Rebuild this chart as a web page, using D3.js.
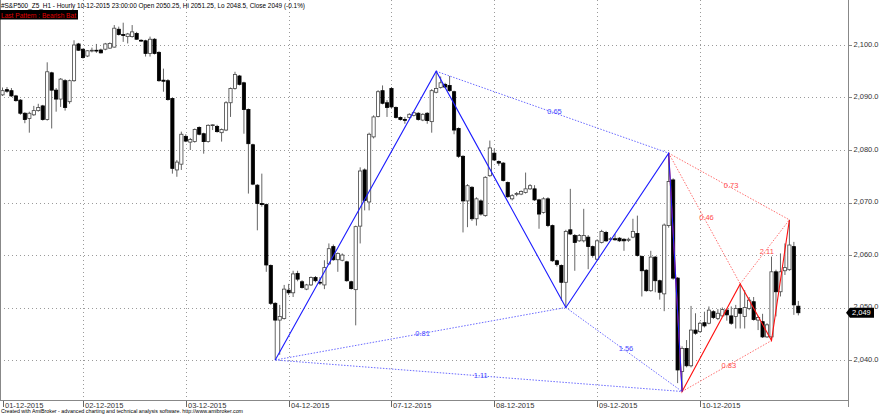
<!DOCTYPE html>
<html><head><meta charset="utf-8">
<script src="https://cdn.jsdelivr.net/npm/d3@7"></script>
<style>body{margin:0;background:#fff}svg{display:block}text{font-family:"Liberation Sans",Arial,sans-serif}</style>
</head><body>
<svg id="c" width="880" height="415"></svg>
<script>
// ---- data (hourly bars, 01-12-2015 .. 10-12-2015) ----
const open  = [2090.5,2091.5,2091.3,2090.3,2089.5,2087.0,2086.0,2086.7,2087.5,2088.4,2085.8,2094.7,2091.4,2089.7,2093.2,2089.2,2093.2,2100.2,2099.2,2097.9,2098.9,2099.0,2099.05,2099.2,2099.4,2099.6,2103.0,2102.0,2101.6,2101.6,2102.2,2100.9,2100.8,2098.4,2101.1,2098.6,2093.3,2093.2,2089.8,2076.2,2077.3,2082.6,2081.5,2081.6,2084.3,2083.1,2081.6,2084.7,2084.5,2083.3,2083.8,2089.0,2091.7,2094.1,2092.8,2087.7,2081.0,2073.3,2069.8,2069.6,2058.0,2050.8,2047.6,2047.9,2053.3,2052.8,2056.5,2054.9,2053.5,2054.3,2055.7,2054.8,2054.3,2058.3,2061.6,2059.1,2059.0,2058.7,2054.9,2053.4,2065.5,2076.2,2070.1,2082.5,2086.4,2091.3,2089.0,2091.7,2088.1,2086.2,2085.8,2086.2,2086.6,2087.0,2085.7,2087.0,2085.4,2091.0,2091.9,2092.5,2092.3,2091.1,2084.1,2078.8,2070.3,2072.9,2066.9,2070.3,2067.5,2075.1,2079.4,2077.8,2077.5,2073.8,2070.7,2071.6,2071.6,2071.9,2072.6,2072.6,2070.5,2068.1,2070.7,2065.6,2058.9,2058.0,2054.8,2064.8,2063.7,2062.7,2062.7,2063.4,2061.6,2059.2,2062.4,2064.3,2063.0,2063.1,2063.2,2063.0,2062.8,2063.4,2064.1,2059.7,2057.1,2053.2,2059.6,2055.1,2052.6,2065.6,2074.3,2055.6,2037.8,2042.2,2038.9,2045.7,2045.4,2047.1,2047.0,2049.2,2047.9,2048.4,2049.5,2048.4,2048.3,2049.8,2048.3,2049.8,2051.1,2047.6,2047.3,2044.4,2044.4,2056.8,2053.0,2057.0,2057.2,2061.6,2050.25];
const high  = [2091.9,2092.0,2091.8,2090.5,2089.7,2087.2,2087.3,2088.4,2088.8,2088.6,2096.7,2094.9,2091.8,2093.7,2093.5,2093.4,2100.9,2100.4,2099.3,2099.0,2099.5,2100.2,2099.3,2100.4,2100.5,2103.8,2103.5,2104.25,2102.3,2103.8,2102.5,2101.1,2101.0,2101.6,2101.3,2098.8,2095.5,2093.5,2090.0,2078.1,2083.5,2083.0,2082.3,2084.1,2084.5,2083.3,2084.9,2084.9,2084.8,2084.1,2089.3,2091.9,2094.9,2094.3,2093.0,2087.9,2081.2,2073.5,2075.5,2069.8,2058.2,2051.0,2050.5,2054.3,2054.5,2057.0,2057.0,2055.2,2054.5,2055.9,2056.0,2055.8,2059.0,2062.2,2062.0,2060.5,2060.3,2058.9,2055.1,2065.6,2076.7,2076.5,2083.3,2086.6,2091.4,2092.3,2089.5,2092.0,2088.3,2086.4,2086.3,2087.0,2087.3,2087.2,2087.0,2087.2,2091.6,2095.0,2094.0,2092.8,2094.1,2091.3,2084.3,2079.0,2073.5,2073.1,2071.0,2070.6,2075.0,2081.8,2080.3,2078.0,2077.7,2074.0,2071.6,2072.0,2072.3,2075.7,2073.5,2073.3,2070.7,2071.0,2071.0,2065.8,2059.1,2058.2,2064.8,2072.6,2064.0,2064.0,2068.8,2063.8,2061.8,2063.0,2064.8,2064.6,2063.4,2064.0,2063.4,2063.2,2063.3,2066.9,2067.5,2059.9,2057.3,2060.8,2059.8,2055.3,2066.0,2079.4,2074.6,2055.8,2042.6,2043.8,2050.3,2048.9,2047.3,2049.2,2050.2,2049.5,2049.7,2050.0,2049.8,2050.2,2050.5,2054.5,2053.3,2052.0,2052.0,2048.4,2048.8,2047.0,2059.7,2057.2,2060.3,2062.2,2066.7,2062.5,2051.25];
const low   = [2090.3,2090.9,2090.1,2089.2,2086.7,2085.1,2083.3,2086.5,2087.3,2085.6,2085.6,2084.1,2087.3,2088.2,2087.5,2088.8,2093.0,2098.9,2097.4,2097.7,2098.6,2098.5,2098.4,2099.0,2099.3,2099.5,2101.8,2100.6,2100.3,2101.4,2101.0,2100.6,2097.8,2097.8,2098.2,2093.0,2091.1,2089.4,2075.5,2074.9,2076.2,2081.5,2080.0,2081.4,2082.8,2079.3,2081.4,2083.8,2083.3,2081.6,2083.6,2086.3,2091.5,2092.3,2083.1,2071.7,2073.3,2064.7,2069.2,2056.8,2050.5,2040.0,2041.0,2047.7,2052.4,2052.0,2055.0,2053.6,2053.3,2054.1,2054.8,2054.3,2053.5,2058.1,2058.9,2056.8,2058.8,2054.9,2053.4,2046.6,2062.2,2068.5,2068.5,2082.2,2086.2,2088.7,2086.3,2088.0,2086.0,2085.6,2085.0,2086.0,2086.4,2085.6,2085.5,2085.0,2083.3,2090.8,2091.7,2091.8,2091.1,2083.0,2078.5,2064.3,2065.3,2066.5,2065.6,2067.5,2067.3,2074.9,2077.9,2077.0,2074.0,2070.9,2070.4,2071.2,2071.4,2071.7,2072.4,2070.3,2065.0,2067.9,2065.3,2058.7,2057.8,2051.3,2050.0,2063.8,2057.0,2062.5,2062.4,2057.3,2059.5,2058.9,2062.2,2062.5,2062.7,2062.7,2062.5,2060.8,2062.5,2063.2,2059.7,2052.1,2053.0,2053.0,2052.9,2051.5,2049.3,2065.2,2055.3,2035.6,2034.0,2038.6,2038.6,2044.8,2045.2,2046.2,2046.8,2047.8,2047.6,2048.2,2047.5,2046.7,2046.0,2046.0,2046.0,2049.5,2047.5,2045.7,2044.2,2044.2,2043.7,2048.3,2052.1,2056.2,2057.0,2048.6,2048.5];
const close = [2091.3,2091.2,2090.3,2089.4,2087.0,2085.8,2087.0,2087.5,2088.1,2085.8,2094.9,2091.4,2089.7,2093.5,2088.1,2093.2,2100.0,2099.0,2097.6,2098.9,2099.0,2098.9,2098.5,2100.2,2100.3,2103.2,2102.0,2101.8,2102.1,2102.5,2101.1,2100.8,2098.4,2101.1,2098.4,2093.2,2093.1,2089.6,2076.5,2077.7,2083.0,2081.7,2082.0,2083.9,2083.0,2081.6,2084.7,2084.8,2083.5,2083.9,2089.0,2091.7,2094.4,2092.5,2087.7,2081.2,2073.5,2069.8,2069.6,2058.1,2050.8,2047.6,2048.3,2053.5,2052.8,2056.4,2055.4,2053.8,2054.3,2055.7,2055.1,2054.7,2057.6,2061.2,2059.1,2060.3,2060.0,2055.1,2053.6,2065.4,2076.0,2070.4,2083.0,2086.3,2091.1,2088.9,2088.1,2088.2,2086.2,2085.8,2085.7,2086.8,2087.1,2085.8,2086.8,2085.6,2091.3,2091.7,2092.8,2092.0,2091.3,2083.8,2078.8,2070.3,2073.2,2066.9,2070.7,2067.8,2074.8,2080.4,2078.1,2077.5,2074.2,2071.1,2071.3,2071.7,2072.1,2072.6,2073.2,2070.5,2067.8,2070.7,2065.6,2058.9,2058.2,2054.8,2064.5,2064.0,2062.4,2063.7,2063.7,2061.6,2059.9,2062.7,2064.5,2062.7,2063.1,2062.9,2062.7,2062.7,2063.0,2064.5,2059.9,2057.0,2053.2,2059.6,2055.1,2052.9,2065.7,2074.0,2055.6,2038.1,2042.2,2038.9,2045.7,2045.1,2047.0,2046.5,2049.5,2048.1,2048.9,2049.6,2048.6,2047.0,2049.8,2048.9,2050.0,2051.4,2047.7,2048.1,2044.4,2046.7,2056.8,2053.0,2056.8,2057.6,2061.9,2050.5,2049];

const dayLabels = ["01-12-2015","02-12-2015","03-12-2015","04-12-2015","07-12-2015","08-12-2015","09-12-2015","10-12-2015"];
const dayStartBar = [0,18,41,64,87,110,133,156];
const priceTicks = [2040,2050,2060,2070,2080,2090,2100];

// Harmonic (Bat) pattern pivots: bar index and price
const batBlueBars  = [61, 97, 126, 149, 152];           // X A B C D
const batBluePrice = [2040.0, 2095.0, 2050.0, 2079.4, 2034.0];
const batRedBars   = [149, 152, 165, 172, 176];          // X A B C D
const batRedPrice  = [2079.4, 2034.0, 2054.5, 2043.7, 2066.7];
// ratio connectors: [from pivot, to pivot]
const ratioLinks   = [[0,2],[1,3],[0,4],[2,4]];
const blueRatios   = ["0.81","0.65","1.11","1.56"];
const redRatios    = ["0.46","0.83","0.73","2.11"];

const headerText = "#S&P500_Z5_H1 - Hourly 10-12-2015 23:00:00 Open 2050.25, Hi 2051.25, Lo 2048.5, Close 2049 (-0.1%)";
const patternText = "Last Pattern : Bearish Bat";
const footerText = "Created with AmiBroker - advanced charting and technical analysis software. http://www.amibroker.com";
const lastPriceText = "2,049";

// ---- drawing ----
const svg = d3.select("#c");
const plotRight = 848, plotBottom = 400.5;
const x = d3.scaleLinear().domain([0, open.length - 1]).range([2.5, 2.5 + 4.471 * (open.length - 1)]);
const y = d3.scaleLinear().domain([2040, 2100]).range([360, 45]);

svg.append("rect").attr("width", 880).attr("height", 415).attr("fill", "#fff");

// grid
svg.append("g").selectAll("line").data(priceTicks).join("line")
  .attr("x1", 0).attr("x2", plotRight).attr("y1", d => Math.round(y(d)) + 0.5).attr("y2", d => Math.round(y(d)) + 0.5)
  .attr("stroke", "#9a9a9a").attr("stroke-dasharray", "1,3");
svg.append("g").selectAll("line").data(dayStartBar.slice(1)).join("line")
  .attr("x1", d => Math.round(x(d)) + 0.5).attr("x2", d => Math.round(x(d)) + 0.5).attr("y1", 0).attr("y2", plotBottom)
  .attr("stroke", "#9a9a9a").attr("stroke-dasharray", "1,3");

// candles
const idx = d3.range(open.length);
const g = svg.append("g");
g.selectAll("line.w").data(idx).join("line").attr("class", "w")
  .attr("x1", i => x(i)).attr("x2", i => x(i)).attr("y1", i => y(high[i])).attr("y2", i => y(low[i]))
  .attr("stroke", "#666").attr("stroke-width", 1);
g.selectAll("rect").data(idx).join("rect")
  .attr("x", i => x(i) - 1.6).attr("width", 3.2)
  .attr("y", i => y(Math.max(open[i], close[i])))
  .attr("height", i => Math.max(0.8, Math.abs(y(open[i]) - y(close[i]))))
  .attr("fill", i => close[i] >= open[i] ? "#fff" : "#000")
  .attr("stroke", i => close[i] >= open[i] ? "#444" : "#000").attr("stroke-width", 0.8);

// pattern drawing
function drawPattern(bars, prices, dotColor, labels, labelColor) {
  const pts = bars.map((b, k) => [x(b), y(prices[k])]);
  const pg = svg.append("g");
  ratioLinks.forEach(([a, b]) => {
    pg.append("line").attr("x1", pts[a][0]).attr("y1", pts[a][1]).attr("x2", pts[b][0]).attr("y2", pts[b][1])
      .attr("stroke", dotColor).attr("stroke-width", 1).attr("stroke-dasharray", "1.5,1.5");
  });
  return {pts, labels, labelColor};
}
const red = drawPattern(batRedBars, batRedPrice, "#ff7070", redRatios, "#ff4a4a");
const blue = drawPattern(batBlueBars, batBluePrice, "#6b6bff", blueRatios, "#4646ff");
const line = d3.line();
svg.append("path").attr("d", line(red.pts)).attr("fill", "none").attr("stroke", "#ff1010").attr("stroke-width", 1.1);
svg.append("path").attr("d", line(blue.pts)).attr("fill", "none").attr("stroke", "#1c1cff").attr("stroke-width", 1.1);
[blue, red].forEach(p => {
  ratioLinks.forEach(([a, b], k) => {
    svg.append("text").attr("x", (p.pts[a][0] + p.pts[b][0]) / 2 + 2).attr("y", (p.pts[a][1] + p.pts[b][1]) / 2)
      .attr("text-anchor", "middle").attr("dominant-baseline", "middle")
      .attr("font-size", 7.5).attr("fill", p.labelColor).text(p.labels[k]);
  });
});

// axes frame
svg.append("line").attr("x1", 0.5).attr("x2", 0.5).attr("y1", 0).attr("y2", plotBottom).attr("stroke", "#888");
svg.append("line").attr("x1", 0).attr("x2", plotRight + 0.5).attr("y1", plotBottom).attr("y2", plotBottom).attr("stroke", "#888");
svg.append("line").attr("x1", plotRight + 0.5).attr("x2", plotRight + 0.5).attr("y1", 0).attr("y2", 407).attr("stroke", "#888");

// right axis labels
const fmt = d3.format(",.1f");
const ya = svg.append("g");
ya.selectAll("line").data(priceTicks).join("line")
  .attr("x1", plotRight + 1).attr("x2", plotRight + 4).attr("y1", d => Math.round(y(d)) + 0.5).attr("y2", d => Math.round(y(d)) + 0.5)
  .attr("stroke", "#888");
ya.selectAll("text").data(priceTicks).join("text")
  .attr("x", plotRight + 5.5).attr("y", d => y(d)).attr("dominant-baseline", "middle")
  .attr("font-size", 7.5).attr("fill", "#333").text(d => fmt(d));

// last price box
const ly = y(close[close.length - 1]);
svg.append("path").attr("d", `M${plotRight - 2},${ly} L${plotRight + 2},${ly - 5} L${plotRight + 26},${ly - 5} L${plotRight + 26},${ly + 5} L${plotRight + 2},${ly + 5} Z`)
  .attr("fill", "#000");
svg.append("text").attr("x", plotRight + 4).attr("y", ly).attr("dominant-baseline", "middle")
  .attr("font-size", 7.5).attr("fill", "#fff").text(lastPriceText);

// bottom date labels
const xa = svg.append("g");
xa.selectAll("line").data(dayStartBar).join("line")
  .attr("x1", d => Math.round(x(d)) + 0.5).attr("x2", d => Math.round(x(d)) + 0.5).attr("y1", 401).attr("y2", 407)
  .attr("stroke", "#666");
xa.selectAll("text").data(dayLabels).join("text")
  .attr("x", (d, k) => Math.round(x(dayStartBar[k])) + 2).attr("y", 407.5)
  .attr("font-size", 7.5).attr("fill", "#333").text(d => d);

// header & footer
svg.append("text").attr("x", 1).attr("y", 7.5).attr("font-size", 7.5)
  .attr("textLength", 304).attr("lengthAdjust", "spacingAndGlyphs").attr("fill", "#000").text(headerText);
svg.append("rect").attr("x", 0).attr("y", 10).attr("width", 78).attr("height", 9.5).attr("fill", "#000");
svg.append("text").attr("x", 1).attr("y", 17.5).attr("font-size", 7.5)
  .attr("textLength", 75).attr("lengthAdjust", "spacingAndGlyphs").attr("fill", "#e00000").text(patternText);
svg.append("text").attr("x", 1).attr("y", 413).attr("font-size", 5.3).attr("fill", "#000").text(footerText);
</script>
</body></html>
